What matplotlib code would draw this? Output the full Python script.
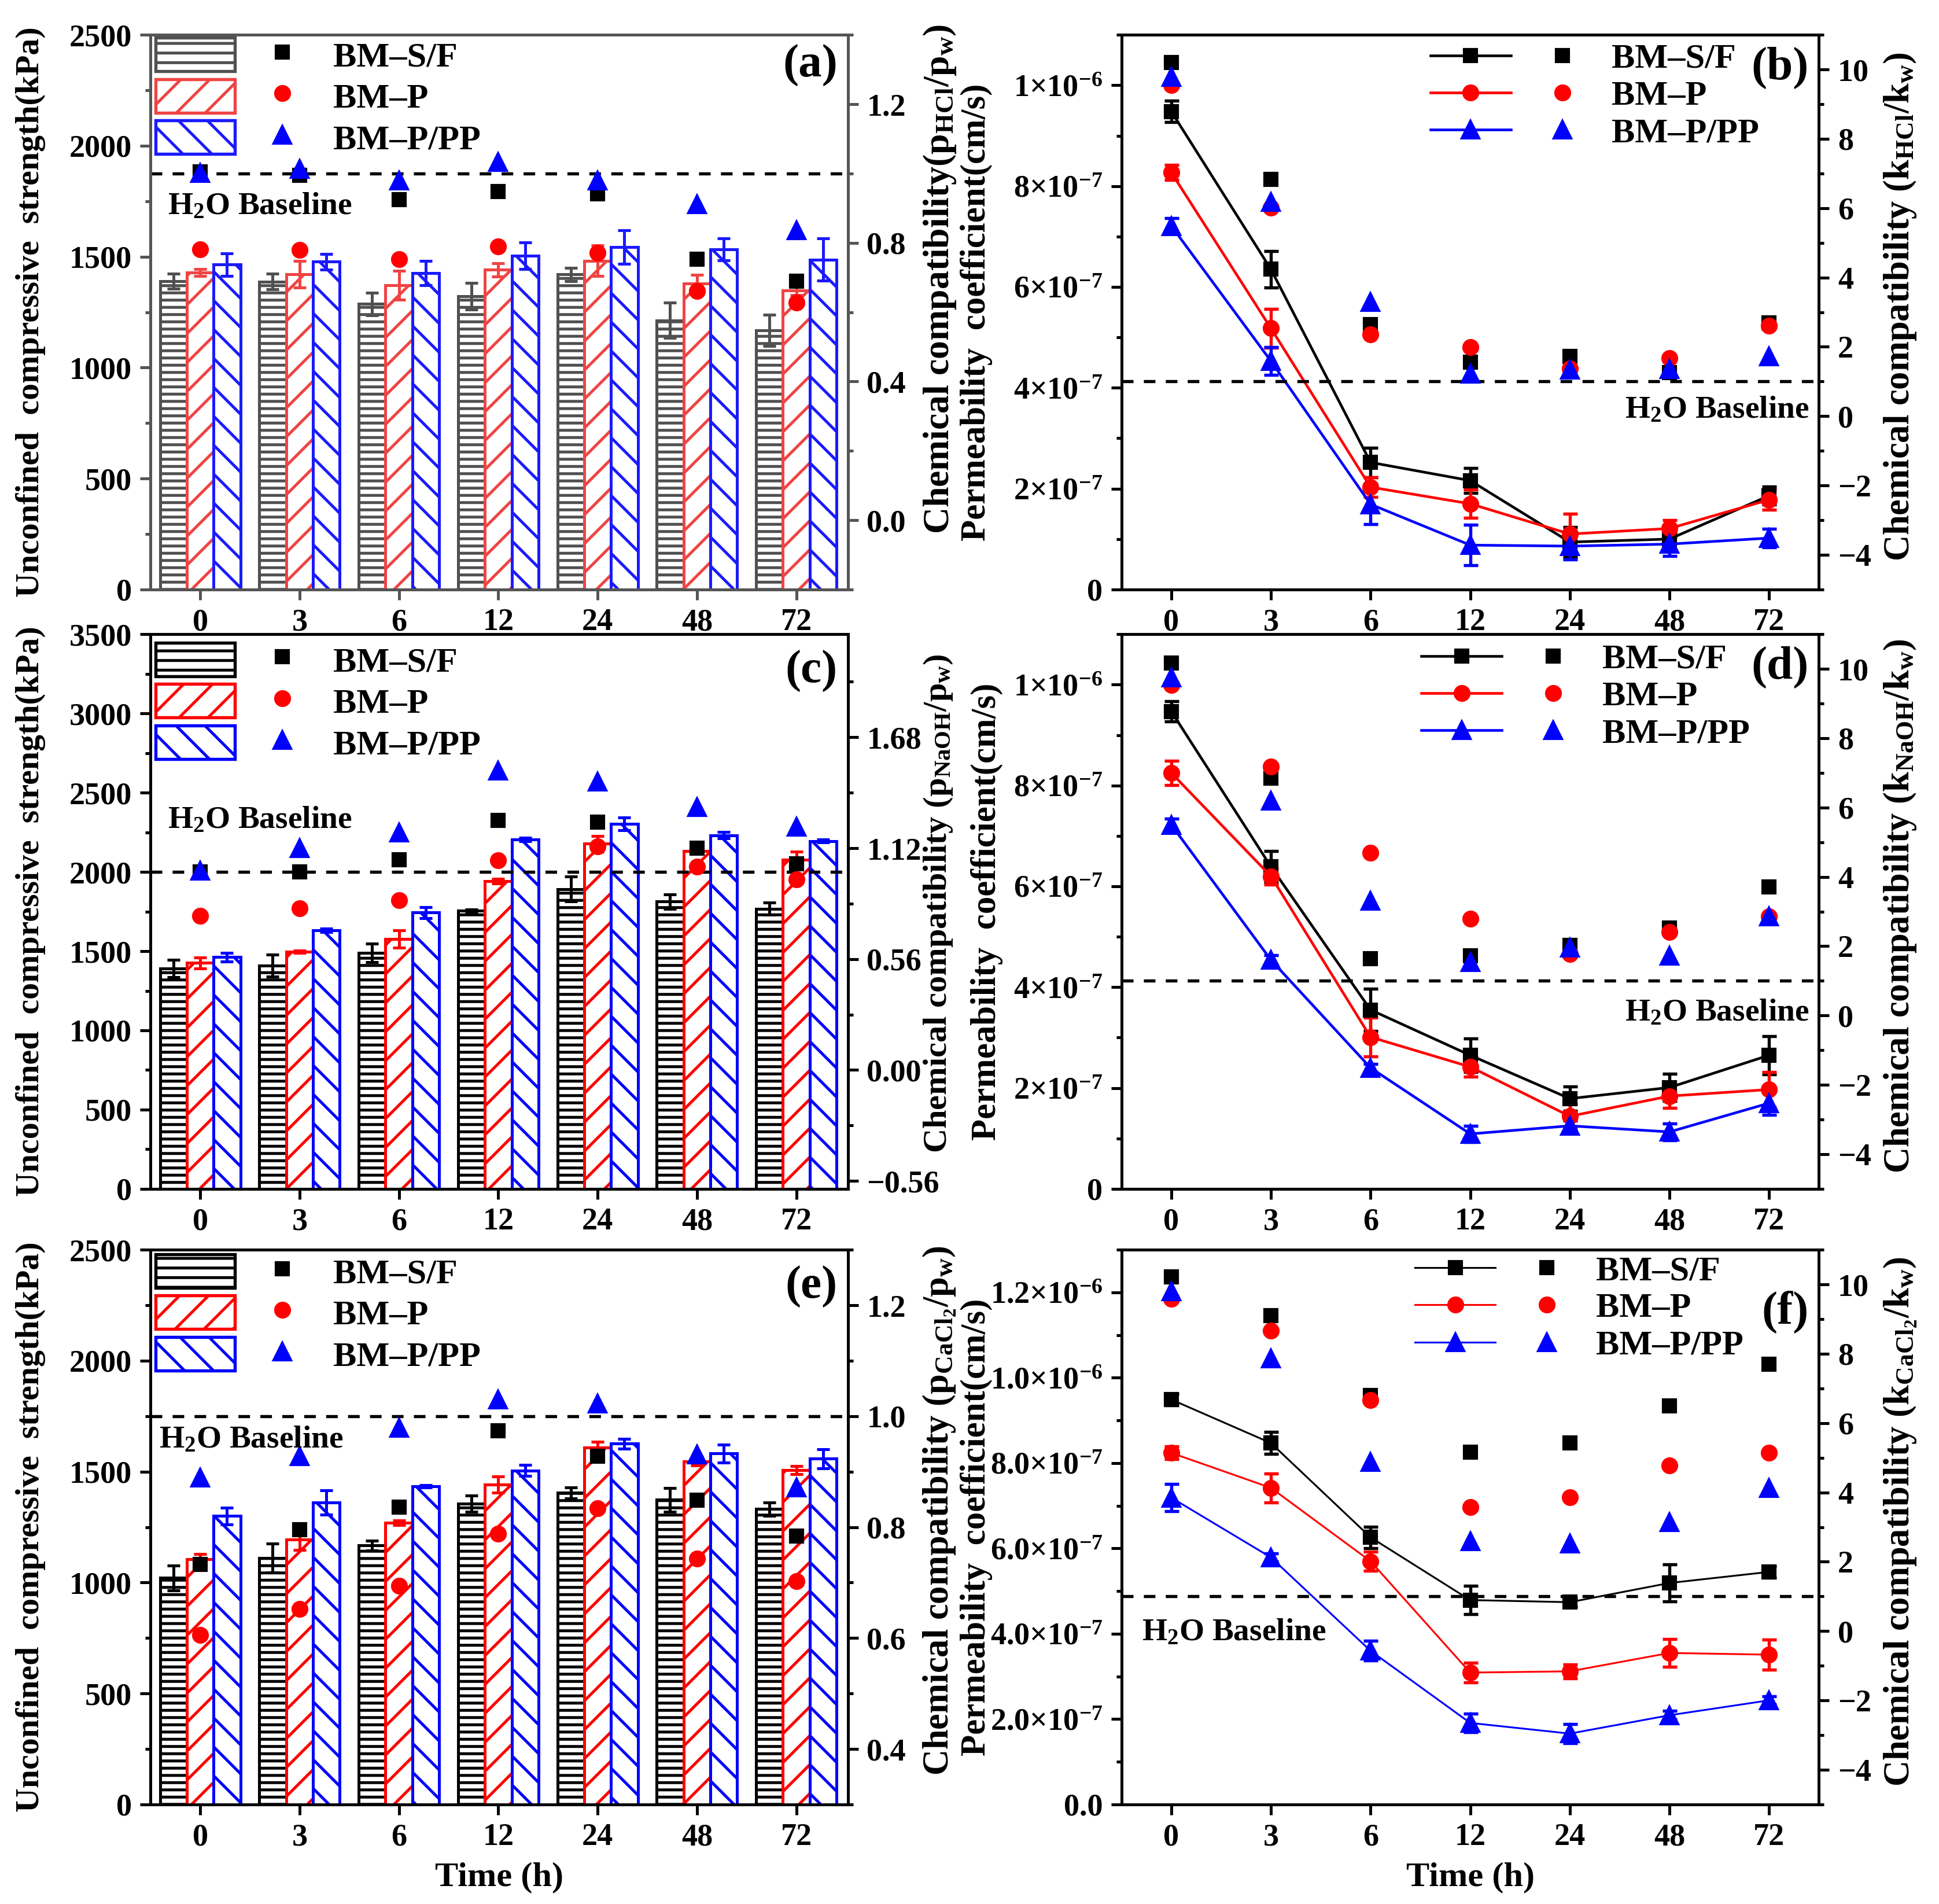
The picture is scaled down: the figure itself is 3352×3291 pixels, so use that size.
import numpy as np
import matplotlib
matplotlib.use('Agg')
import matplotlib.pyplot as plt
from matplotlib.ticker import MultipleLocator, FixedLocator, FuncFormatter
from matplotlib.legend_handler import HandlerTuple
from matplotlib.patches import Patch

plt.rcParams['font.family'] = ['Liberation Serif', 'DejaVu Serif']
plt.rcParams['font.weight'] = 'bold'
plt.rcParams['mathtext.fontset'] = 'custom'
plt.rcParams['mathtext.rm'] = 'Liberation Serif:bold'
plt.rcParams['mathtext.it'] = 'Liberation Serif:bold:italic'
plt.rcParams['mathtext.bf'] = 'Liberation Serif:bold'
plt.rcParams['hatch.linewidth'] = 1.2
plt.rcParams['axes.linewidth'] = 1.2

# ---- data ----
times = ['0', '3', '6', '12', '24', '48', '72']
series = ['BM\u2013S/F', 'BM\u2013P', 'BM\u2013P/PP']

# HCl: unconfined compressive strength (kPa)
ucs_hcl_sf = [1390, 1388, 1287, 1323, 1420, 1213, 1168]
ucs_hcl_sf_err = [33, 35, 50, 60, 30, 80, 70]
ucs_hcl_p = [1429, 1422, 1372, 1441, 1482, 1379, 1347]
ucs_hcl_p_err = [15, 60, 65, 30, 70, 40, 20]
ucs_hcl_pp = [1464, 1478, 1427, 1505, 1544, 1533, 1487]
ucs_hcl_pp_err = [50, 35, 55, 60, 75, 50, 95]
cc_hcl_sf = [1.005, 0.995, 0.925, 0.948, 0.941, 0.752, 0.690]
cc_hcl_p = [0.781, 0.779, 0.752, 0.789, 0.771, 0.661, 0.627]
cc_hcl_pp = [1.001, 1.013, 0.979, 1.033, 0.979, 0.911, 0.837]

# HCl: permeability (x1e-7 cm/s)
k_hcl_sf = [9.48, 6.35, 2.52, 2.16, 0.94, 1.00, 1.86]
k_hcl_sf_err = [0.21, 0.36, 0.29, 0.25, 0.30, 0.20, 0.18]
k_hcl_p = [8.27, 5.18, 2.03, 1.70, 1.10, 1.21, 1.78]
k_hcl_p_err = [0.15, 0.38, 0.20, 0.28, 0.40, 0.17, 0.20]
k_hcl_pp = [7.21, 4.53, 1.69, 0.88, 0.86, 0.90, 1.02]
k_hcl_pp_err = [0.15, 0.28, 0.40, 0.40, 0.27, 0.23, 0.18]
kc_hcl_sf = [10.2, 6.83, 2.64, 1.56, 1.73, 1.25, 2.70]
kc_hcl_p = [9.55, 6.01, 2.36, 1.99, 1.37, 1.68, 2.61]
kc_hcl_pp = [9.78, 6.18, 3.29, 1.22, 1.34, 1.36, 1.73]

# NaOH: unconfined compressive strength (kPa)
ucs_naoh_sf = [1391, 1409, 1488, 1756, 1892, 1813, 1768]
ucs_naoh_sf_err = [55, 70, 58, 8, 78, 45, 38]
ucs_naoh_p = [1426, 1496, 1577, 1942, 2178, 2133, 2078]
ucs_naoh_p_err = [35, 8, 55, 15, 50, 20, 50]
ucs_naoh_pp = [1463, 1632, 1744, 2205, 2302, 2232, 2195]
ucs_naoh_pp_err = [28, 10, 35, 10, 40, 20, 10]
cc_naoh_sf = [1.001, 1.0, 1.062, 1.259, 1.251, 1.12, 1.041]
cc_naoh_p = [0.777, 0.817, 0.858, 1.060, 1.13, 1.027, 0.961]
cc_naoh_pp = [1.005, 1.12, 1.20, 1.512, 1.457, 1.328, 1.229]

# NaOH: permeability (x1e-7 cm/s)
k_naoh_sf = [9.47, 6.39, 3.55, 2.65, 1.79, 2.01, 2.65]
k_naoh_sf_err = [0.20, 0.31, 0.42, 0.33, 0.24, 0.27, 0.38]
k_naoh_p = [8.25, 6.20, 3.01, 2.42, 1.44, 1.84, 1.97]
k_naoh_p_err = [0.24, 0.17, 0.38, 0.20, 0.25, 0.24, 0.35]
k_naoh_pp = [7.22, 4.54, 2.40, 1.09, 1.25, 1.13, 1.70]
k_naoh_pp_err = [0.12, 0.10, 0.08, 0.16, 0.10, 0.17, 0.23]
kc_naoh_sf = [10.17, 6.84, 1.64, 1.73, 2.03, 2.52, 3.71]
kc_naoh_p = [9.53, 7.18, 4.69, 2.80, 1.77, 2.41, 2.86]
kc_naoh_pp = [9.75, 6.19, 3.31, 1.54, 1.95, 1.73, 2.86]

# CaCl2: unconfined compressive strength (kPa)
ucs_cacl_sf = [1021, 1110, 1167, 1355, 1405, 1373, 1332]
ucs_cacl_sf_err = [57, 65, 23, 37, 25, 54, 30]
ucs_cacl_p = [1106, 1193, 1270, 1442, 1608, 1547, 1508]
ucs_cacl_p_err = [24, 45, 10, 37, 28, 20, 18]
ucs_cacl_pp = [1300, 1360, 1434, 1505, 1626, 1582, 1559]
ucs_cacl_pp_err = [37, 55, 6, 25, 23, 40, 43]
cc_cacl_sf = [0.733, 0.795, 0.836, 0.974, 0.928, 0.849, 0.784]
cc_cacl_p = [0.605, 0.652, 0.694, 0.788, 0.834, 0.743, 0.702]
cc_cacl_pp = [0.889, 0.928, 0.979, 1.030, 1.023, 0.931, 0.872]

# CaCl2: permeability (x1e-7 cm/s)
k_cacl_sf = [9.49, 8.47, 6.26, 4.79, 4.74, 5.19, 5.45]
k_cacl_sf_err = [0.13, 0.26, 0.25, 0.33, 0.10, 0.43, 0.13]
k_cacl_p = [8.24, 7.42, 5.70, 3.09, 3.12, 3.55, 3.51]
k_cacl_p_err = [0.15, 0.34, 0.22, 0.23, 0.16, 0.33, 0.35]
k_cacl_pp = [7.19, 5.79, 3.60, 1.91, 1.66, 2.09, 2.44]
k_cacl_pp_err = [0.32, 0.10, 0.23, 0.22, 0.23, 0.10, 0.10]
kc_cacl_sf = [10.22, 9.10, 6.79, 5.17, 5.43, 6.50, 7.70]
kc_cacl_p = [9.59, 8.66, 6.67, 3.58, 3.86, 4.78, 5.14]
kc_cacl_pp = [9.80, 7.86, 4.88, 2.60, 2.52, 3.14, 4.12]

# ---- styles ----
colors = ['black', 'red', 'blue']
bar_hatches = ['----', '//', '\\\\']
leg_hatches = ['---', '//', '\\\\']
markers = ['s', 'o', '^']
msizes = [5.4, 6.0, 7.0]
FS = 13
LFS = 14.5
x = np.arange(len(times))

fig = plt.figure(figsize=(3353 / 300, 3291 / 300), dpi=300)
W, H = 0.3596, 0.2913
LX, RX = 0.0776, 0.5782
ROWS = [0.6904, 0.3756, 0.0523]


def style_axes(ax, spine='black'):
    ax.tick_params(which='major', direction='out', length=4.3, width=1.2,
                   labelsize=FS, color=spine)
    ax.tick_params(which='minor', direction='out', length=2.2, width=1.2, color=spine)
    for s in ax.spines.values():
        s.set_color(spine)


def dashed(ax2):
    ax2.axhline(1.0, color='black', lw=1.3, ls=(0, (3.7, 3.3)), zorder=1)


def bar_panel(pos, ucs, errs, cc, ymax, rlim, rticks, rminor, rdec, rlabel,
              tag, tag_y, base_xy, leg_y, edges, spine='black',
              rlabel_xy=(1.105, 0.5), rfs=15, xlabel=False):
    ax = fig.add_axes(pos)
    ax2 = ax.twinx()
    w = 0.27
    handles = []
    for i in range(3):
        ax.bar(x + (i - 1) * w, ucs[i], w, yerr=errs[i], color='white',
               edgecolor=edges[i], hatch=bar_hatches[i], linewidth=1.2,
               error_kw=dict(ecolor=edges[i], elinewidth=1.2,
                             capsize=2.6, capthick=1.2))
        pts, = ax2.plot(x, cc[i], ls='none', marker=markers[i], ms=msizes[i],
                        color=colors[i], mec=colors[i])
        proxy = Patch(facecolor='white', edgecolor=edges[i],
                      hatch=leg_hatches[i], linewidth=1.3)
        handles.append((proxy, pts))
    dashed(ax2)
    ax.set_xlim(-0.5, 6.52)
    ax.set_ylim(0, ymax)
    ax.set_xticks(x)
    ax.set_xticklabels(times)
    ax.yaxis.set_major_locator(MultipleLocator(500))
    ax.yaxis.set_minor_locator(MultipleLocator(250))
    ax.set_ylabel('Unconfined  compressive  strength(kPa)', fontsize=13.9,
                  fontweight='bold')
    ax.yaxis.set_label_coords(-0.15, 0.5)
    ax2.set_ylim(*rlim)
    ax2.yaxis.set_major_locator(FixedLocator(rticks))
    ax2.yaxis.set_minor_locator(MultipleLocator(rminor))
    ax2.yaxis.set_major_formatter(FuncFormatter(
        lambda v, p: f'{v:.{rdec}f}'.replace('-', '\u2212')))
    ax2.set_ylabel(rlabel, fontsize=rfs, fontweight='bold')
    ax2.yaxis.set_label_coords(*rlabel_xy)
    style_axes(ax, spine)
    style_axes(ax2, spine)
    ax2.legend(handles, series, handler_map={tuple: HandlerTuple(ndivide=2, pad=0.21)},
               loc='upper left', bbox_to_anchor=(0.0075, leg_y), frameon=False,
               handlelength=4.75, handleheight=1.1, handletextpad=0.33,
               labelspacing=0.15, borderpad=0, borderaxespad=0,
               prop=dict(size=LFS, weight='bold'))
    ax2.text(base_xy[0], base_xy[1], 'H$_2$O Baseline', transform=ax.transAxes,
             fontsize=13.3, ha='left', va='center')
    ax2.text(0.985, tag_y, tag, transform=ax.transAxes, fontsize=19.5,
             ha='right', va='center')
    if xlabel:
        ax.set_xlabel('Time (h)', fontsize=14.5, fontweight='bold')
    return ax, ax2


def sci_fmt(dec):
    def f(v, p):
        if abs(v) < 1e-12:
            return '0' if dec == 0 else '0.0'
        e = int(np.floor(np.log10(abs(v)) + 1e-9))
        m = v / 10 ** e
        return f'{m:.{dec}f}\u00d710$^{{{e}}}$'
    return f


def line_panel(pos, ks, errs, kc, ymax, dec, lw, rlabel, tag, tag_y,
               base_xy, base_ha, leg_xy, ylabel_x=-0.185, xlabel=False):
    ax = fig.add_axes(pos)
    ax2 = ax.twinx()
    handles = []
    for i in range(3):
        eb = ax.errorbar(x, np.array(ks[i]) * 1e-7, yerr=np.array(errs[i]) * 1e-7,
                         color=colors[i], lw=lw, marker=markers[i], ms=msizes[i],
                         elinewidth=1.3, capsize=3, capthick=1.3)
        pts, = ax2.plot(x, kc[i], ls='none', marker=markers[i], ms=msizes[i],
                        color=colors[i])
        handles.append((eb[0], pts))
    dashed(ax2)
    ax.set_xlim(-0.5, 6.5)
    ax.set_ylim(0, ymax)
    ax.set_xticks(x)
    ax.set_xticklabels(times)
    ax.yaxis.set_major_locator(MultipleLocator(2e-7))
    ax.yaxis.set_minor_locator(MultipleLocator(1e-7))
    ax.yaxis.set_major_formatter(FuncFormatter(sci_fmt(dec)))
    ax.set_ylabel('Permeability  coefficient(cm/s)', fontsize=14.6, fontweight='bold')
    ax.yaxis.set_label_coords(ylabel_x, 0.5)
    ax2.set_ylim(-5, 11)
    ax2.yaxis.set_major_locator(MultipleLocator(2))
    ax2.yaxis.set_minor_locator(MultipleLocator(1))
    ax2.set_ylabel(rlabel, fontsize=15, fontweight='bold')
    ax2.yaxis.set_label_coords(1.09, 0.51)
    style_axes(ax)
    style_axes(ax2)
    ax2.legend(handles, series, handler_map={tuple: HandlerTuple(ndivide=2, pad=0.32)},
               loc='upper left', bbox_to_anchor=leg_xy, frameon=False,
               handlelength=4.92, handletextpad=0.26, labelspacing=0.15,
               borderpad=0, borderaxespad=0, prop=dict(size=LFS, weight='bold'))
    ax2.text(base_xy[0], base_xy[1], 'H$_2$O Baseline', transform=ax.transAxes,
             fontsize=13.3, ha=base_ha, va='center')
    ax2.text(0.985, tag_y, tag, transform=ax.transAxes, fontsize=19.5,
             ha='right', va='center')
    if xlabel:
        ax.set_xlabel('Time (h)', fontsize=14.5, fontweight='bold')
    return ax, ax2


# (a) HCl strength
bar_panel([LX, ROWS[0], W, H],
          [ucs_hcl_sf, ucs_hcl_p, ucs_hcl_pp],
          [ucs_hcl_sf_err, ucs_hcl_p_err, ucs_hcl_pp_err],
          [cc_hcl_sf, cc_hcl_p, cc_hcl_pp],
          2500, (-0.2, 1.4), [0.0, 0.4, 0.8, 1.2], 0.2, 1,
          'Chemical compatibility(p$_{\\mathrm{HCl}}$/p$_{\\mathrm{w}}$)',
          '(a)', 0.945, (0.025, 0.69), 0.995,
          ['#505050', '#f04444', '#1a1aff'], spine='#555555',
          rlabel_xy=(1.105, 0.56), rfs=15.3)

# (b) HCl permeability
line_panel([RX, ROWS[0], W, H],
           [k_hcl_sf, k_hcl_p, k_hcl_pp],
           [k_hcl_sf_err, k_hcl_p_err, k_hcl_pp_err],
           [kc_hcl_sf, kc_hcl_p, kc_hcl_pp],
           1.1e-6, 0, 1.1,
           'Chemical compatibility (k$_{\\mathrm{HCl}}$/k$_{\\mathrm{w}}$)',
           '(b)', 0.94, (0.986, 0.323), 'right', (0.443, 0.985))

# (c) NaOH strength
bar_panel([LX, ROWS[1], W, H],
          [ucs_naoh_sf, ucs_naoh_p, ucs_naoh_pp],
          [ucs_naoh_sf_err, ucs_naoh_p_err, ucs_naoh_pp_err],
          [cc_naoh_sf, cc_naoh_p, cc_naoh_pp],
          3500, (-0.6, 2.2), [-0.56, 0.0, 0.56, 1.12, 1.68], 0.28, 2,
          'Chemical compatibility (p$_{\\mathrm{NaOH}}$/p$_{\\mathrm{w}}$)',
          '(c)', 0.933, (0.025, 0.664), 0.985,
          ['black', 'red', 'blue'], rlabel_xy=(1.107, 0.515), rfs=14)

# (d) NaOH permeability
line_panel([RX, ROWS[1], W, H],
           [k_naoh_sf, k_naoh_p, k_naoh_pp],
           [k_naoh_sf_err, k_naoh_p_err, k_naoh_pp_err],
           [kc_naoh_sf, kc_naoh_p, kc_naoh_pp],
           1.1e-6, 0, 1.1,
           'Chemical compatibility (k$_{\\mathrm{NaOH}}$/k$_{\\mathrm{w}}$)',
           '(d)', 0.94, (0.986, 0.316), 'right', (0.43, 0.983), ylabel_x=-0.17)

# (e) CaCl2 strength
bar_panel([LX, ROWS[2], W, H],
          [ucs_cacl_sf, ucs_cacl_p, ucs_cacl_pp],
          [ucs_cacl_sf_err, ucs_cacl_p_err, ucs_cacl_pp_err],
          [cc_cacl_sf, cc_cacl_p, cc_cacl_pp],
          2500, (0.3, 1.3), [0.4, 0.6, 0.8, 1.0, 1.2], 0.1, 1,
          'Chemical compatibility (p$_{\\mathrm{CaCl_2}}$/p$_{\\mathrm{w}}$)',
          '(e)', 0.933, (0.0125, 0.657), 0.992,
          ['black', 'red', 'blue'], rlabel_xy=(1.105, 0.53), rfs=15,
          xlabel=True)

# (f) CaCl2 permeability
line_panel([RX, ROWS[2], W, H],
           [k_cacl_sf, k_cacl_p, k_cacl_pp],
           [k_cacl_sf_err, k_cacl_p_err, k_cacl_pp_err],
           [kc_cacl_sf, kc_cacl_p, kc_cacl_pp],
           1.3e-6, 1, 0.75,
           'Chemical compatibility (k$_{\\mathrm{CaCl_2}}$/k$_{\\mathrm{w}}$)',
           '(f)', 0.888, (0.029, 0.309), 'left', (0.421, 0.99), xlabel=True)

fig.savefig('out.png', dpi=300)
